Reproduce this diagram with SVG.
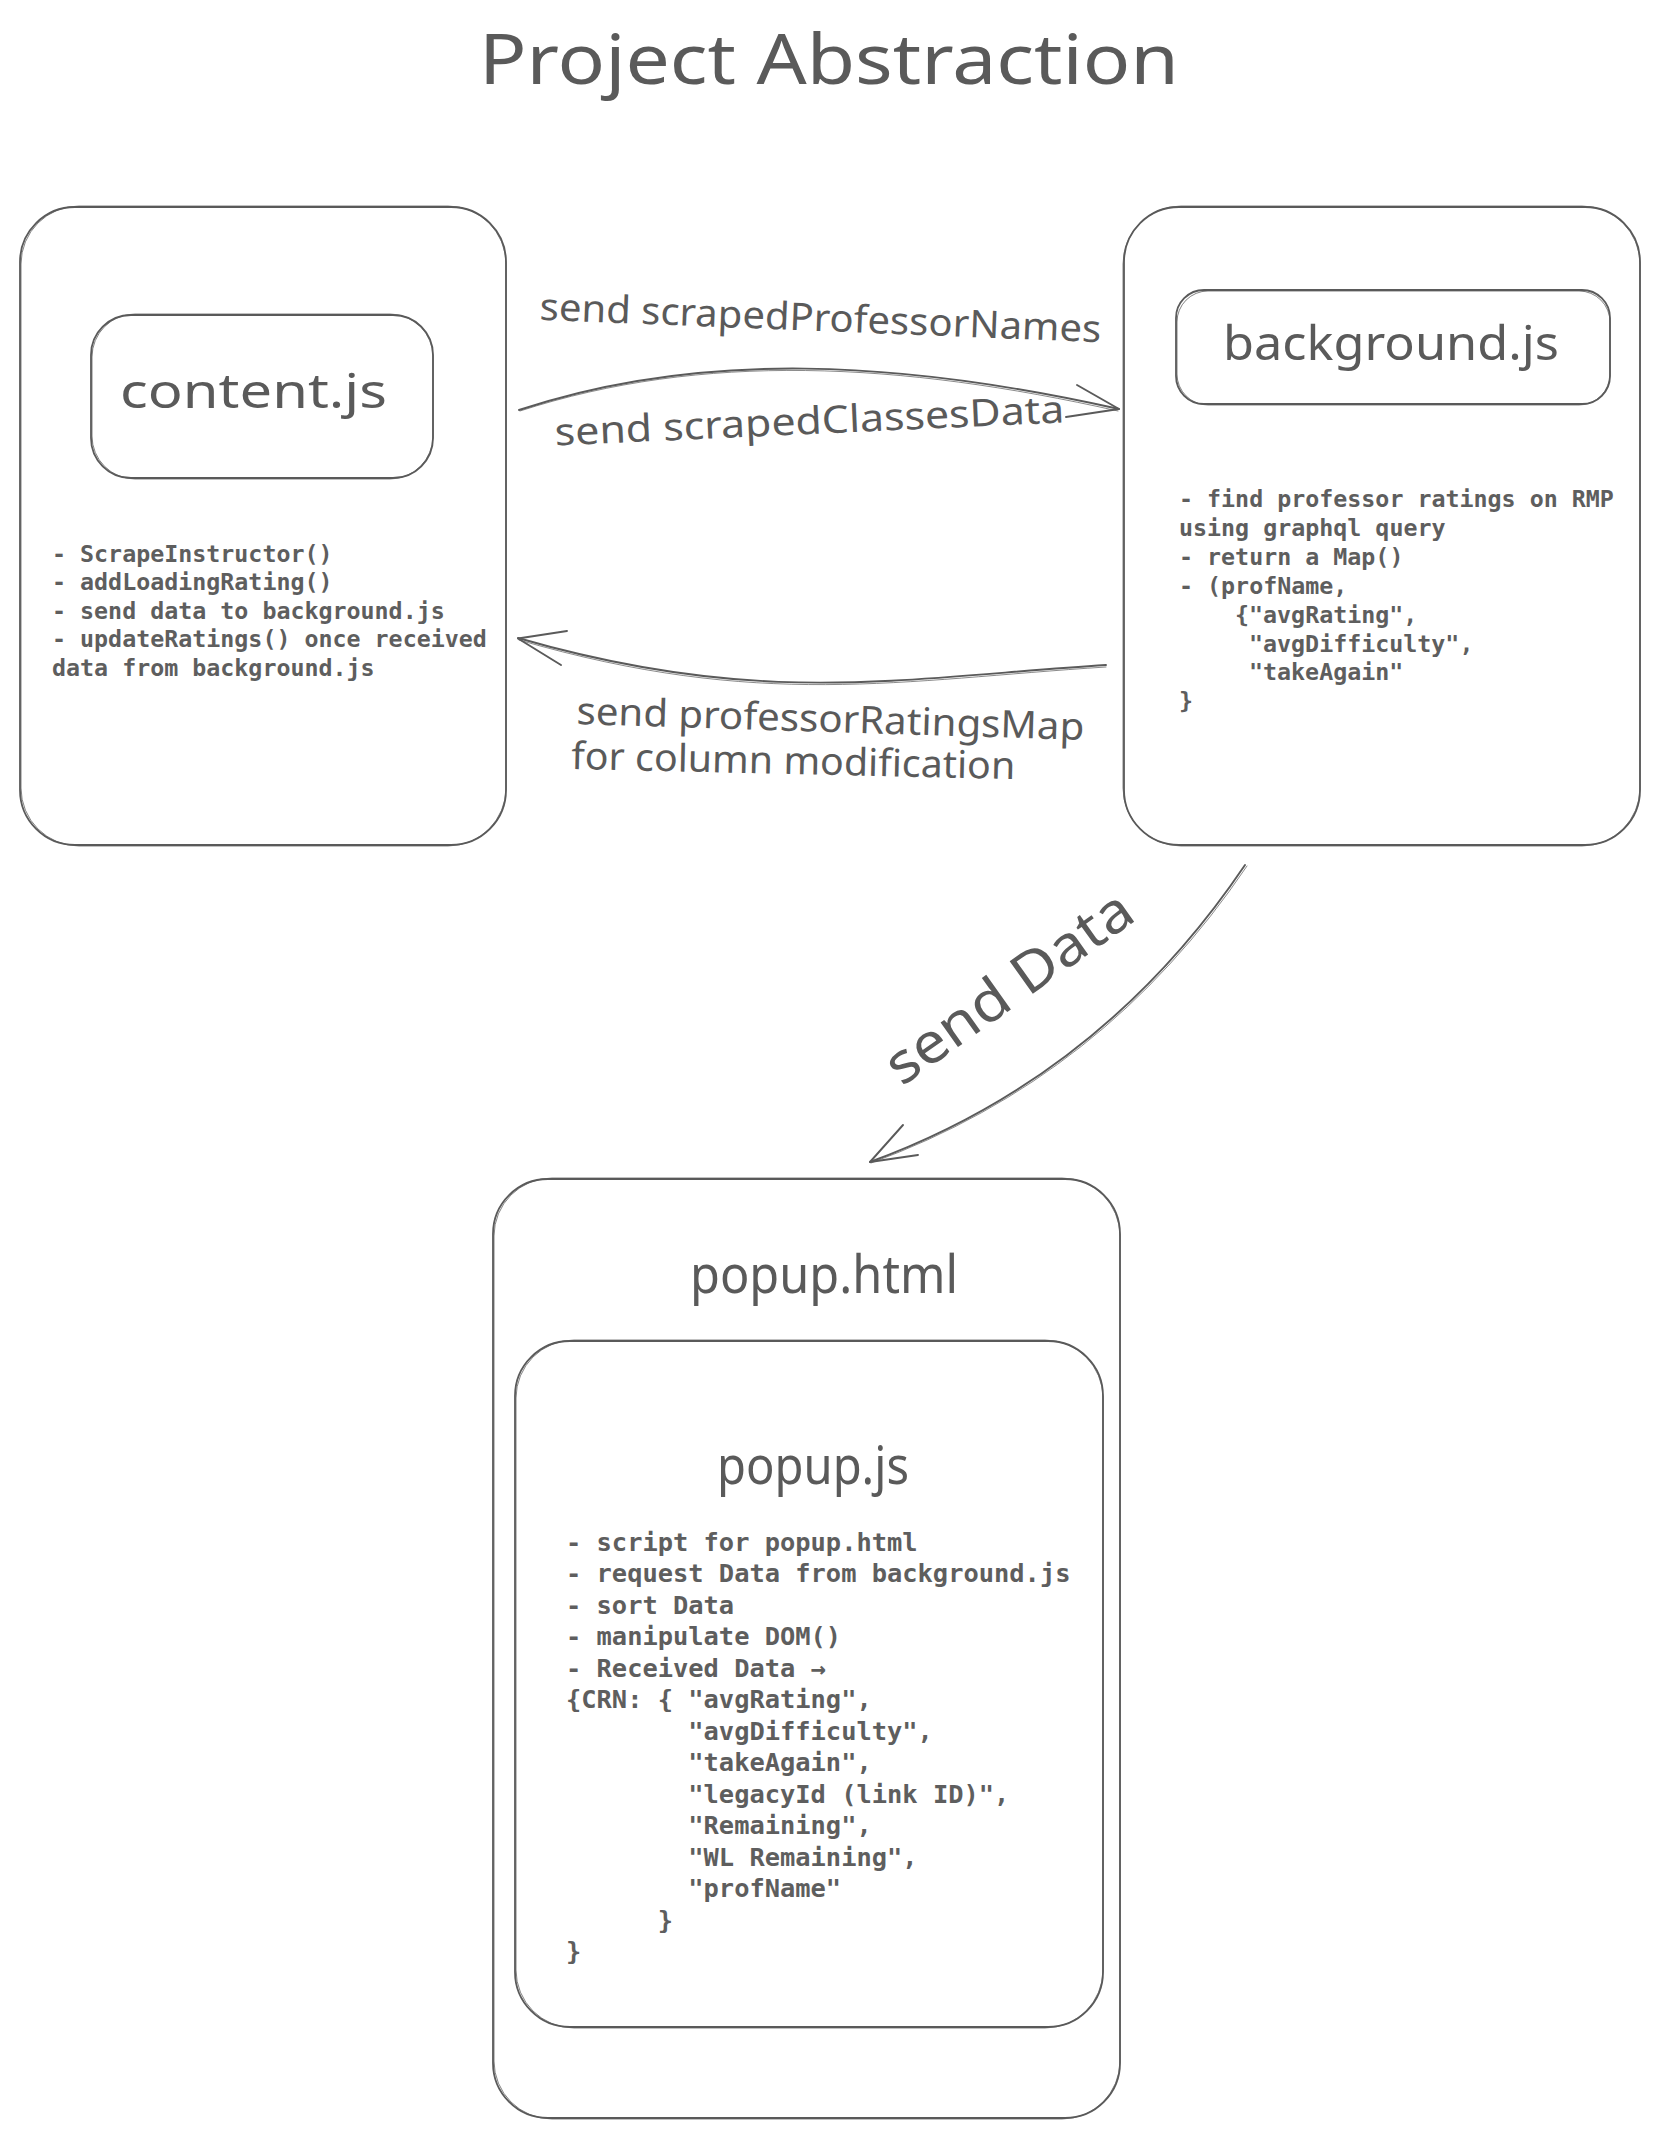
<svg xmlns="http://www.w3.org/2000/svg" width="1660" height="2137" viewBox="0 0 1660 2137">
<style>
.bg{fill:#ffffff}
.box{fill:none;stroke:#5a5a5a;stroke-width:1.8}
.box2{fill:none;stroke:#5a5a5a;stroke-width:1;opacity:.75}
.line{fill:none;stroke:#5a5a5a;stroke-width:1.9;stroke-linecap:round;stroke-linejoin:round}
.line2{fill:none;stroke:#5a5a5a;stroke-width:1;opacity:.7;stroke-linecap:round}
.hand{font-family:"Noto Sans","Liberation Sans",sans-serif;fill:#5a5a5a;font-weight:400}
.mono{font-family:"DejaVu Sans Mono","Liberation Mono",monospace;fill:#5e5e5e;font-size:23.3px;font-weight:bold}
.mono2{font-family:"DejaVu Sans Mono","Liberation Mono",monospace;fill:#5e5e5e;font-size:25.4px;font-weight:bold}
</style>
<rect class="bg" x="0" y="0" width="1660" height="2137"/>

<g id="title">
<text class="hand" x="479" y="84" font-size="70" textLength="700" lengthAdjust="spacingAndGlyphs">Project Abstraction</text>
</g>

<g id="content-node">
<rect class="box" x="20" y="207" width="486" height="638" rx="55"/>
<rect class="box2" x="21" y="206" width="485" height="640" rx="58"/>
<g id="content-js">
<rect class="box" x="91" y="315" width="342" height="163" rx="40"/>
<rect class="box2" x="92" y="314" width="341" height="165" rx="43"/>
<text class="hand" x="120" y="408" font-size="48" textLength="267" lengthAdjust="spacingAndGlyphs">content.js</text>
</g>
<text class="mono">
<tspan x="52" y="561.6">- ScrapeInstructor()</tspan>
<tspan x="52" y="590.2">- addLoadingRating()</tspan>
<tspan x="52" y="618.8">- send data to background.js</tspan>
<tspan x="52" y="647.4">- updateRatings() once received</tspan>
<tspan x="52" y="676">data from background.js</tspan>
</text>
</g>

<g id="background-node">
<rect class="box" x="1124" y="207" width="516" height="638" rx="55"/>
<rect class="box2" x="1123" y="206" width="517" height="640" rx="58"/>
<g id="background-js">
<rect class="box" x="1176" y="290" width="434" height="114" rx="28"/>
<rect class="box2" x="1177" y="291" width="433" height="114" rx="31"/>
<text class="hand" x="1223" y="360" font-size="48" textLength="336" lengthAdjust="spacingAndGlyphs">background.js</text>
</g>
<text class="mono">
<tspan x="1179" y="507">- find professor ratings on RMP</tspan>
<tspan x="1179" y="535.9">using graphql query</tspan>
<tspan x="1179" y="564.8">- return a Map()</tspan>
<tspan x="1179" y="593.7">- (profName,</tspan>
<tspan x="1235" y="622.6">{"avgRating",</tspan>
<tspan x="1249" y="651.5">"avgDifficulty",</tspan>
<tspan x="1249" y="680.4">"takeAgain"</tspan>
<tspan x="1179" y="709.3">}</tspan>
</text>
</g>

<g id="popup-html">
<rect class="box" x="493" y="1179" width="627" height="939" rx="55"/>
<rect class="box2" x="494" y="1178" width="626" height="941" rx="58"/>
<text class="hand" x="690" y="1293" font-size="52" textLength="268" lengthAdjust="spacingAndGlyphs">popup.html</text>
<g id="popup-js">
<rect class="box" x="515" y="1341" width="588" height="686" rx="55"/>
<rect class="box2" x="516" y="1340" width="587" height="688" rx="58"/>
<text class="hand" x="717" y="1484" font-size="52" textLength="192" lengthAdjust="spacingAndGlyphs">popup.js</text>
<text class="mono2">
<tspan x="566" y="1550.6">- script for popup.html</tspan>
<tspan x="566" y="1582.1">- request Data from background.js</tspan>
<tspan x="566" y="1613.6">- sort Data</tspan>
<tspan x="566" y="1645.1">- manipulate DOM()</tspan>
<tspan x="566" y="1676.6">- Received Data →</tspan>
<tspan x="566" y="1708.1">{CRN: { "avgRating",</tspan>
<tspan x="688.3" y="1739.6">"avgDifficulty",</tspan>
<tspan x="688.3" y="1771.1">"takeAgain",</tspan>
<tspan x="688.3" y="1802.6">"legacyId (link ID)",</tspan>
<tspan x="688.3" y="1834.1">"Remaining",</tspan>
<tspan x="688.3" y="1865.6">"WL Remaining",</tspan>
<tspan x="688.3" y="1897.1">"profName"</tspan>
<tspan x="657.8" y="1928.6">}</tspan>
<tspan x="566" y="1960.1">}</tspan>
</text>
</g>
</g>

<g id="connectors">
<g id="edge-content-to-background">
<path class="line" d="M519,410 C700,350 900,360 1119,409"/>
<path class="line2" d="M520,411 C702,352 900,362 1118,411"/>
<path class="line" d="M1077,385 L1119,409 L1066,417"/>
<text class="hand" x="820" y="331" font-size="38" text-anchor="middle" textLength="562" lengthAdjust="spacingAndGlyphs" transform="rotate(2.3 820 331)">send scrapedProfessorNames</text>
<text class="hand" x="810" y="434" font-size="38" text-anchor="middle" textLength="510" lengthAdjust="spacingAndGlyphs" transform="rotate(-2.6 810 434)">send scrapedClassesData</text>
</g>
<g id="edge-background-to-content">
<path class="line" d="M1106,665 C900,678 760,708 518,638"/>
<path class="line2" d="M1106,667 C900,680 760,710 519,640"/>
<path class="line" d="M567,631 L518,638.5 L561,665"/>
<text class="hand" x="830" y="732" font-size="38" text-anchor="middle" textLength="508" lengthAdjust="spacingAndGlyphs" transform="rotate(1.8 830 732)">send professorRatingsMap</text>
<text class="hand" x="793" y="774" font-size="38" text-anchor="middle" textLength="444" lengthAdjust="spacingAndGlyphs" transform="rotate(1.3 793 774)">for column modification</text>
</g>
<g id="edge-background-to-popup">
<path class="line" d="M1245,865 Q1102,1077 870,1162"/>
<path class="line2" d="M1247,866 Q1104,1078 871,1163"/>
<path class="line" d="M903,1125 L870,1162 L918,1155"/>
<text class="hand" x="1020" y="1003" font-size="56" text-anchor="middle" textLength="290" lengthAdjust="spacingAndGlyphs" transform="rotate(-35.4 1020 1003)">send Data</text>
</g>
</g>
</svg>
